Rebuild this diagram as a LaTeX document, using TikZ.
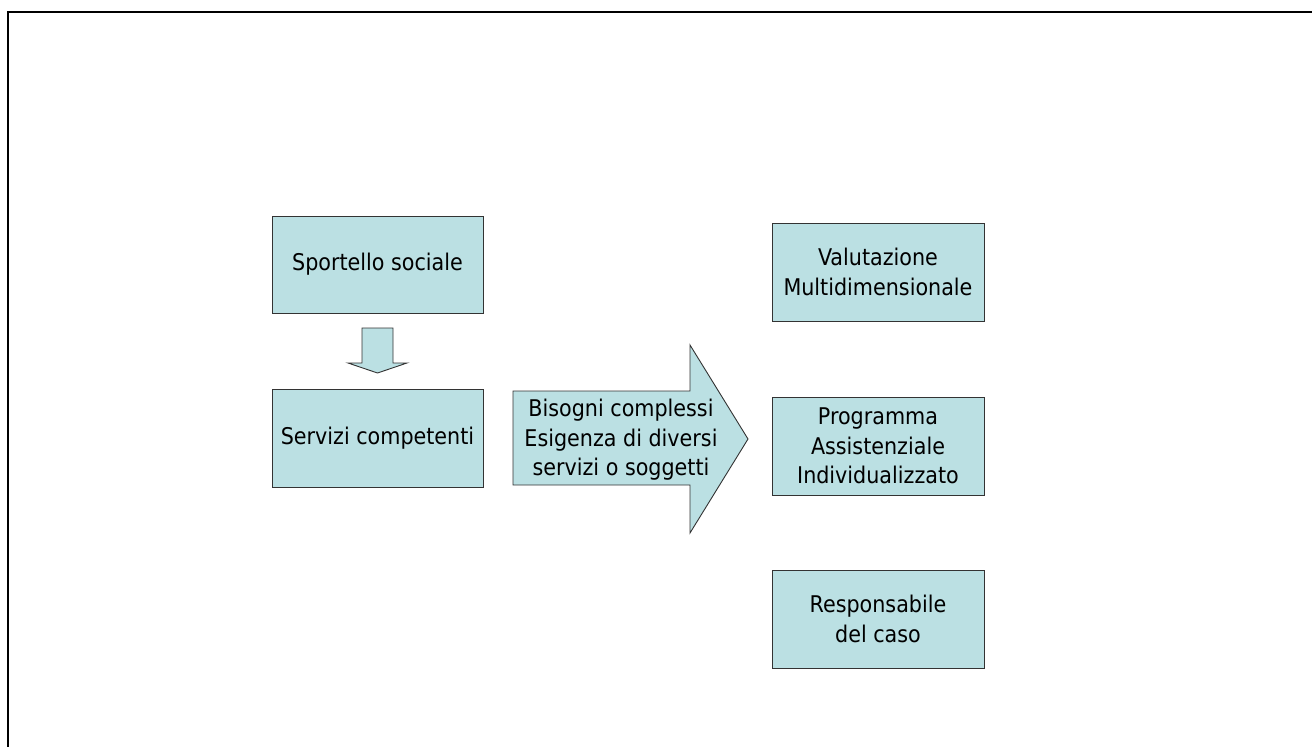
\documentclass[tikz,border=0pt]{standalone}
\usepackage{fontspec}
\setmainfont{DejaVu Sans Condensed}
\begin{document}
\begin{tikzpicture}[x=1pt,y=-1pt,
  boxstyle/.style={draw=black!80,line width=0.9pt,fill=boxfill},
  txt/.style={font=\fontsize{23}{29.5}\selectfont,align=center,inner sep=0pt}]
\definecolor{boxfill}{HTML}{BBE0E3}
\useasboundingbox (0,0) rectangle (1312,747);
% frame
\draw[line width=2pt] (8,760) -- (8,12) -- (1320,12);
% left boxes
\draw[boxstyle] (272,216) rectangle (483,313);
\node[txt] (spo) at (377.5,264.5) {Sportello sociale};
\draw[boxstyle] (272,389) rectangle (483,487);
\node[txt] (ser) at (377.5,438) {Servizi competenti};
% down arrow
\draw[boxstyle] (362,328) -- (393,328) -- (393,363) -- (407,363) -- (377.5,373) -- (348,363) -- (362,363) -- cycle;
% big arrow
\draw[boxstyle] (513,391) -- (690,391) -- (690,345) -- (748,439) -- (690,533) -- (690,485) -- (513,485) -- cycle;
\node[txt] (big) at (621,440) {Bisogni complessi\\Esigenza di diversi\\servizi o soggetti};
% right boxes
\draw[boxstyle] (772,223) rectangle (984,321);
\node[txt] (val) at (878,272) {Valutazione\\Multidimensionale};
\draw[boxstyle] (772,397) rectangle (984,495);
\node[txt] (pro) at (878,446) {Programma\\Assistenziale\\Individualizzato};
\draw[boxstyle] (772,570) rectangle (984,668);
\node[txt] (res) at (878,619) {Responsabile\\del caso};
\end{tikzpicture}
\end{document}
